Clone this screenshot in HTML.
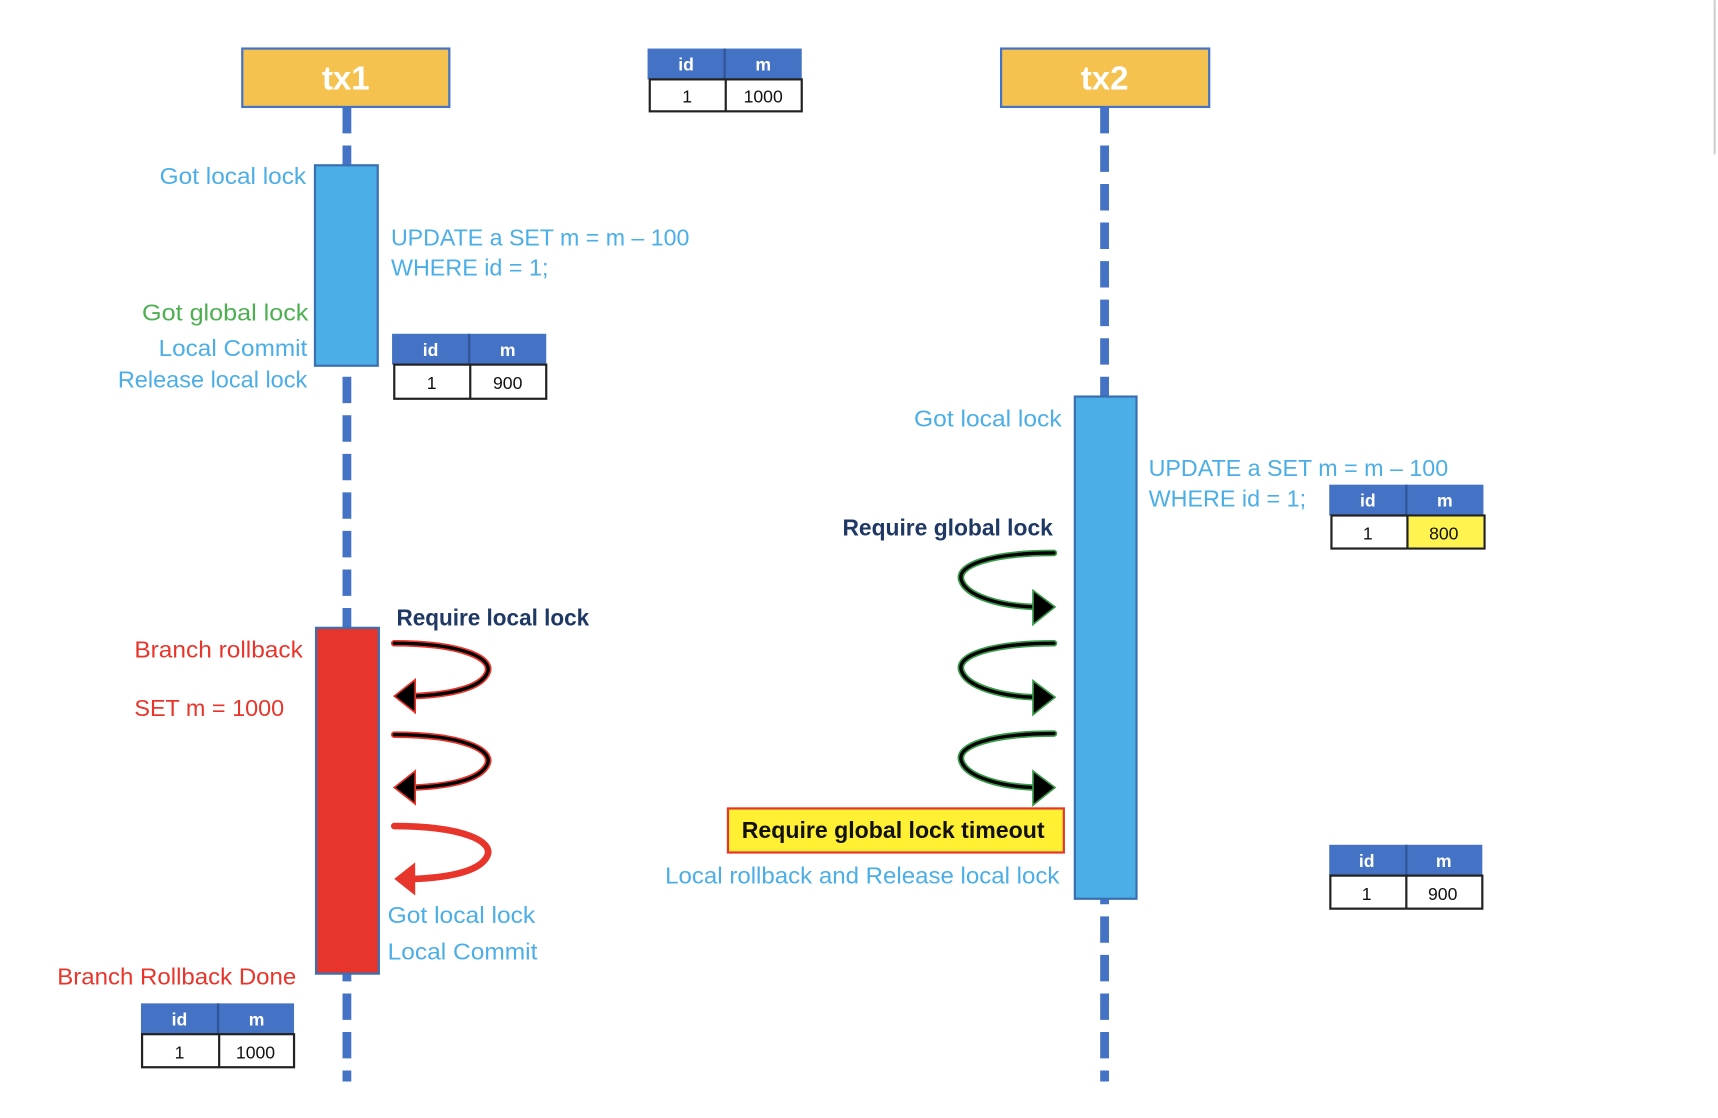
<!DOCTYPE html>
<html><head><meta charset="utf-8"><style>
html,body{margin:0;padding:0;background:#fff;}
svg{display:block;}
text{font-family:"Liberation Sans",sans-serif;}
</style></head><body>
<svg width="1718" height="1118" viewBox="0 0 1560 1015" xmlns="http://www.w3.org/2000/svg">
<rect width="1560" height="1015" fill="#fff"/>
<line x1="1557" y1="0" x2="1557" y2="140" stroke="#d0d0d0" stroke-width="2"/>
<!-- lifelines -->
<line x1="315" y1="97" x2="315" y2="982" stroke="#4472C4" stroke-width="8" stroke-dasharray="24,11"/>
<line x1="1003" y1="97" x2="1003" y2="982" stroke="#4472C4" stroke-width="8" stroke-dasharray="24,11"/>
<!-- headers -->
<rect x="220" y="44" width="188" height="53" fill="#F5C250" stroke="#4472C4" stroke-width="2"/>
<text x="314" y="81" font-size="30" font-weight="bold" fill="#fff" text-anchor="middle">tx1</text>
<rect x="909" y="44" width="189" height="53" fill="#F5C250" stroke="#4472C4" stroke-width="2"/>
<text x="1003" y="81" font-size="30" font-weight="bold" fill="#fff" text-anchor="middle">tx2</text>

<!-- tables -->
<g font-size="16" text-anchor="middle">
<g transform="translate(588,44)">
<rect x="0" y="0" width="140" height="28" fill="#4472C4"/><line x1="70" y1="0" x2="70" y2="28" stroke="#2f5597" stroke-width="2"/>
<rect x="2" y="28" width="138" height="29" fill="#fff" stroke="#222" stroke-width="2"/><line x1="71" y1="28" x2="71" y2="57" stroke="#222" stroke-width="2"/>
<text x="35" y="20" fill="#fff" font-weight="bold">id</text><text x="105" y="20" fill="#fff" font-weight="bold">m</text>
<text x="36" y="49" fill="#111">1</text><text x="105" y="49" fill="#111">1000</text></g>
<g transform="translate(356,303)">
<rect x="0" y="0" width="140" height="28" fill="#4472C4"/><line x1="70" y1="0" x2="70" y2="28" stroke="#2f5597" stroke-width="2"/>
<rect x="2" y="28" width="138" height="31" fill="#fff" stroke="#222" stroke-width="2"/><line x1="71" y1="28" x2="71" y2="59" stroke="#222" stroke-width="2"/>
<text x="35" y="20" fill="#fff" font-weight="bold">id</text><text x="105" y="20" fill="#fff" font-weight="bold">m</text>
<text x="36" y="50" fill="#111">1</text><text x="105" y="50" fill="#111">900</text></g>
<g transform="translate(128,911)">
<rect x="0" y="0" width="139" height="28" fill="#4472C4"/><line x1="70" y1="0" x2="70" y2="28" stroke="#2f5597" stroke-width="2"/>
<rect x="1" y="28" width="138" height="30" fill="#fff" stroke="#222" stroke-width="2"/><line x1="71" y1="28" x2="71" y2="58" stroke="#222" stroke-width="2"/>
<text x="35" y="20" fill="#fff" font-weight="bold">id</text><text x="105" y="20" fill="#fff" font-weight="bold">m</text>
<text x="35" y="50" fill="#111">1</text><text x="104" y="50" fill="#111">1000</text></g>
<g transform="translate(1207,440)">
<rect x="0" y="0" width="140" height="28" fill="#4472C4"/><line x1="70" y1="0" x2="70" y2="28" stroke="#2f5597" stroke-width="2"/>
<rect x="2" y="28" width="139" height="30" fill="#fff" stroke="#222" stroke-width="2"/>
<rect x="72" y="29" width="68" height="28" fill="#FFF44F"/><line x1="71" y1="28" x2="71" y2="58" stroke="#222" stroke-width="2"/>
<text x="35" y="20" fill="#fff" font-weight="bold">id</text><text x="105" y="20" fill="#fff" font-weight="bold">m</text>
<text x="35" y="50" fill="#111">1</text><text x="104" y="50" fill="#111">800</text></g>
<g transform="translate(1207,767)">
<rect x="0" y="0" width="139" height="28" fill="#4472C4"/><line x1="70" y1="0" x2="70" y2="28" stroke="#2f5597" stroke-width="2"/>
<rect x="1" y="28" width="138" height="30" fill="#fff" stroke="#222" stroke-width="2"/><line x1="70" y1="28" x2="70" y2="58" stroke="#222" stroke-width="2"/>
<text x="34" y="20" fill="#fff" font-weight="bold">id</text><text x="104" y="20" fill="#fff" font-weight="bold">m</text>
<text x="34" y="50" fill="#111">1</text><text x="103" y="50" fill="#111">900</text></g>
</g>

<!-- activations -->
<rect x="286" y="150" width="57" height="182" fill="#4BAEE6" stroke="#3a6fb0" stroke-width="2"/>
<rect x="287" y="570" width="57" height="314" fill="#E8352B" stroke="#3a6fb0" stroke-width="2"/>
<rect x="976" y="360" width="56" height="456" fill="#4BAEE6" stroke="#3a6fb0" stroke-width="2"/>

<!-- tx1 labels -->
<g font-size="21">
<text x="278" y="167" fill="#4BAEE6" text-anchor="end" textLength="133" lengthAdjust="spacingAndGlyphs">Got local lock</text>
<text x="280" y="291" fill="#4CAF50" text-anchor="end" textLength="151" lengthAdjust="spacingAndGlyphs">Got global lock</text>
<text x="279" y="323" fill="#4BAEE6" text-anchor="end" textLength="135" lengthAdjust="spacingAndGlyphs">Local Commit</text>
<text x="279" y="352" fill="#4BAEE6" text-anchor="end" textLength="172" lengthAdjust="spacingAndGlyphs">Release local lock</text>
<text x="355" y="223" fill="#4BAEE6" textLength="271" lengthAdjust="spacingAndGlyphs">UPDATE a SET m = m – 100</text>
<text x="355" y="250" fill="#4BAEE6" textLength="143" lengthAdjust="spacingAndGlyphs">WHERE id = 1;</text>
<text x="360" y="568" fill="#1F3864" font-weight="bold" textLength="175" lengthAdjust="spacingAndGlyphs">Require local lock</text>
<text x="275" y="597" fill="#E8352B" text-anchor="end" textLength="153" lengthAdjust="spacingAndGlyphs">Branch rollback</text>
<text x="122" y="650" fill="#E8352B" textLength="136" lengthAdjust="spacingAndGlyphs">SET m = 1000</text>
<text x="352" y="838" fill="#4BAEE6" textLength="134" lengthAdjust="spacingAndGlyphs">Got local lock</text>
<text x="352" y="871" fill="#4BAEE6" textLength="136" lengthAdjust="spacingAndGlyphs">Local Commit</text>
<text x="269" y="894" fill="#E8352B" text-anchor="end" textLength="217" lengthAdjust="spacingAndGlyphs">Branch Rollback Done</text>
<!-- tx2 labels -->
<text x="964" y="387" fill="#4BAEE6" text-anchor="end" textLength="134" lengthAdjust="spacingAndGlyphs">Got local lock</text>
<text x="1043" y="432" fill="#4BAEE6" textLength="272" lengthAdjust="spacingAndGlyphs">UPDATE a SET m = m – 100</text>
<text x="1043" y="460" fill="#4BAEE6" textLength="143" lengthAdjust="spacingAndGlyphs">WHERE id = 1;</text>
<text x="956" y="486" fill="#1F3864" font-weight="bold" text-anchor="end" textLength="191" lengthAdjust="spacingAndGlyphs">Require global lock</text>
<text x="962" y="802" fill="#4BAEE6" text-anchor="end" textLength="358" lengthAdjust="spacingAndGlyphs">Local rollback and Release local lock</text>
</g>
<rect x="661" y="734" width="305" height="40" fill="#FFF033" stroke="#E8352B" stroke-width="2"/>
<text x="811" y="761" font-size="21" font-weight="bold" fill="#111" text-anchor="middle" textLength="275" lengthAdjust="spacingAndGlyphs">Require global lock timeout</text>

<!-- red arrows -->
<g fill="none" stroke-linecap="round">
<g id="ra">
<path d="M358,584 C420,584 450,598 442,612 C434,627 400,631 376,632" stroke="#E8352B" stroke-width="6"/>
<path d="M358,584 C420,584 450,598 442,612 C434,627 400,631 376,632" stroke="#000" stroke-width="3"/>
<polygon points="358,632 377,617 377,647" fill="#000" stroke="#E8352B" stroke-width="1.5"/>
</g>
<use href="#ra" transform="translate(0,83)"/>
<path d="M358,750 C420,750 450,764 442,778 C434,793 400,797 376,798" stroke="#E8352B" stroke-width="6"/>
<polygon points="358,798 377,783 377,813" fill="#E8352B"/>
</g>
<!-- green arrows -->
<g fill="none" stroke-linecap="round">
<g id="ga">
<path d="M957,502 C900,502 868,513 873,527 C878,542 910,550 938,551" stroke="#3a9a4a" stroke-width="6"/>
<path d="M957,502 C900,502 868,513 873,527 C878,542 910,550 938,551" stroke="#000" stroke-width="3"/>
<polygon points="958,551 938,536 938,567" fill="#000" stroke="#3a9a4a" stroke-width="1.5"/>
</g>
<use href="#ga" transform="translate(0,82)"/>
<use href="#ga" transform="translate(0,164)"/>
</g>
</svg>
</body></html>
